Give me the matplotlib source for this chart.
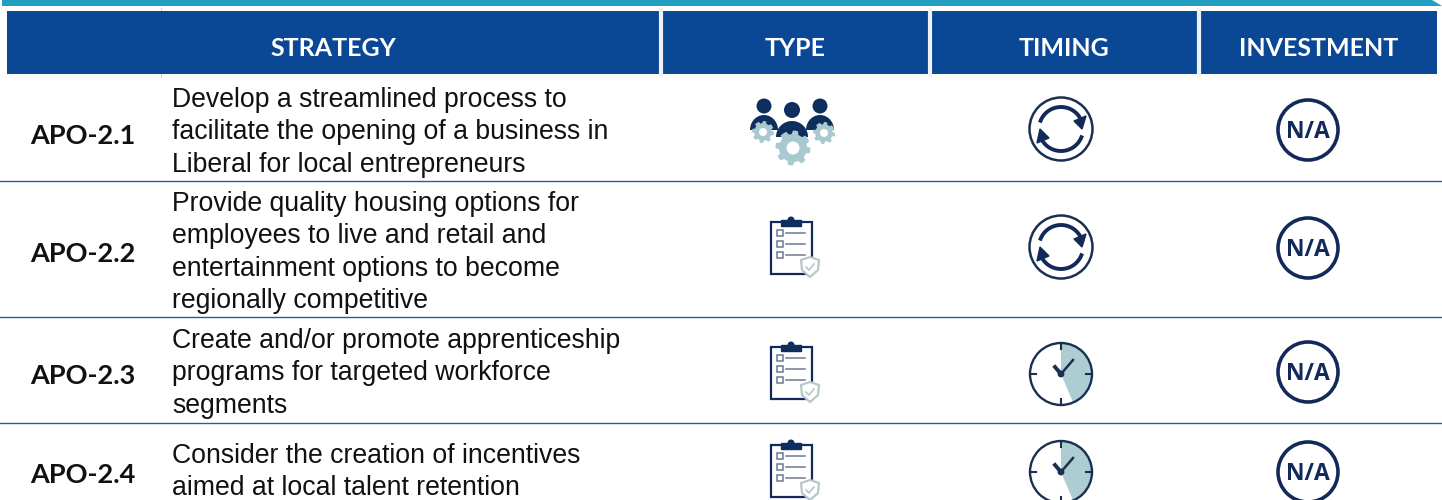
import numpy as np
from matplotlib import pyplot as plt
from matplotlib.patches import Rectangle, Circle, Wedge, Polygon, FancyBboxPatch

headers = ["STRATEGY", "TYPE", "TIMING", "INVESTMENT"]
codes = ["APO-2.1", "APO-2.2", "APO-2.3", "APO-2.4"]
strategies = [
    ["Develop a streamlined process to", "facilitate the opening of a business in", "Liberal for local entrepreneurs"],
    ["Provide quality housing options for", "employees to live and retail and", "entertainment options to become", "regionally competitive"],
    ["Create and/or promote apprenticeship", "programs for targeted workforce", "segments"],
    ["Consider the creation of incentives", "aimed at local talent retention"],
]
types = ["people", "plan", "plan", "plan"]
timings = ["ongoing", "ongoing", "clock", "clock"]

NAVY = "#12295a"
LIGHT = "#a9c9d0"
HEAD = "#0a4795"
FONT = "Liberation Sans"
LABEL = "Lato"


def gear(ax, x, y, r, hole, teeth=8):
    ang = np.linspace(0, 2*np.pi, teeth*8, endpoint=False)
    rad = np.where((ang*teeth/(2*np.pi)) % 1 < 0.5, r, r*0.8)
    ax.add_patch(Polygon(np.c_[x + rad*np.cos(ang), y + rad*np.sin(ang)], fc=LIGHT, ec="none", zorder=4))
    ax.add_patch(Circle((x, y), hole, fc="white", ec="none", zorder=5))


def shoulders(ax, x, y, rx, h):
    t = np.linspace(np.pi, 2*np.pi, 40)
    ax.add_patch(Polygon(np.c_[x + rx*np.cos(t), y + h*np.sin(t)], fc="#0d2f5e", ec="none", zorder=3))


def people_icon(ax, y):
    x = 792
    for dx, dy, r, rx, h, base in [(-28, -24, 7.5, 14, 15, 24), (28, -24, 7.5, 14, 15, 24), (0, -20, 8, 16, 16, 27)]:
        ax.add_patch(Circle((x+dx, y+dy), r, fc="#0d2f5e", ec="none", zorder=3))
        shoulders(ax, x+dx, y+dy+base, rx, h)
    gear(ax, x-29, y+2, 11, 4)
    gear(ax, x+32, y+3, 11, 4)
    gear(ax, x+1, y+18, 17.5, 6.5)


def plan_icon(ax, top):
    # top = upper edge of the board
    ax.add_patch(Rectangle((771, top), 41, 52, fc="white", ec=NAVY, lw=1.6, zorder=3))
    ax.add_patch(FancyBboxPatch((782, top-1), 19, 5, boxstyle="round,pad=0.5", fc="#0d2f5e", ec="#0d2f5e", zorder=4))
    ax.add_patch(Circle((791, top-2), 3.5, fc="#0d2f5e", ec="none", zorder=4))
    for i in range(3):
        yy = top + 11 + i*11
        ax.add_patch(Rectangle((777, yy-3), 6, 6, fc="white", ec="#6d7892", lw=1.1, zorder=4))
        ax.plot([786, 805], [yy, yy], color="#6d7892", lw=1.1, zorder=4)
    sx, sy = 810, top+45
    ax.add_patch(Polygon([(sx-9, sy-7), (sx, sy-10), (sx+9, sy-7), (sx+8, sy+3), (sx, sy+10), (sx-8, sy+3)],
                         fc="white", ec="#b9c6cb", lw=1.6, zorder=5))
    ax.plot([sx-4, sx-1, sx+4], [sy, sy+3, sy-3], color="#b9c6cb", lw=1.2, zorder=6)


def cycle_icon(ax, x, y):
    ax.add_patch(Circle((x, y), 31.5, fc="white", ec="#1b2f50", lw=1.8, zorder=3))
    for a0, a1 in [(-158, -18), (22, 158)]:
        t = np.radians(np.linspace(a0, a1, 50))
        ax.plot(x + 22*np.cos(t), y + 22*np.sin(t), color=NAVY, lw=2.8, zorder=4)
    ax.add_patch(Polygon([(x+25, y-13), (x+13, y-8), (x+21, y)], fc=NAVY, ec=NAVY, zorder=4))
    ax.add_patch(Polygon([(x-24, y+14), (x-12, y+9), (x-21, y)], fc=NAVY, ec=NAVY, zorder=4))


def clock_icon(ax, x, y):
    ax.add_patch(Circle((x, y), 31, fc="white", ec="none", zorder=2))
    ax.add_patch(Wedge((x, y), 31, -90, 67, fc="#aecdd3", ec="none", zorder=3))
    ax.add_patch(Circle((x, y), 31, fc="none", ec="#1b2f50", lw=1.7, zorder=4))
    for a in np.radians([0, 90, 180, 270]):
        ax.plot([x + 31*np.cos(a), x + 25*np.cos(a)], [y + 31*np.sin(a), y + 25*np.sin(a)],
                color="#1b2f50", lw=1.5, zorder=4)
    ax.plot([x, x+12], [y, y-14], color="#1b2f50", lw=1.8, zorder=5)
    ax.plot([x, x-6], [y, y-7], color="#1b2f50", lw=2.8, zorder=5)
    ax.add_patch(Circle((x, y), 3.4, fc="#1b2f50", ec="none", zorder=5))


def na_icon(ax, x, y):
    ax.add_patch(Circle((x, y), 30, fc="white", ec="#12295a", lw=2.6, zorder=3))
    ax.text(x, y+8.5, "N/A", family="Open Sans", weight="bold", fontsize=16.5, color=NAVY,
            ha="center", va="baseline", zorder=4)


fig = plt.figure(figsize=(14.42, 5), dpi=100)
ax = fig.add_axes([0, 0, 1, 1])
ax.set_xlim(0, 1442)
ax.set_ylim(500, 0)
ax.axis("off")

# top band, right end is slanted
ax.add_patch(Polygon([(2, 0), (1432, 0), (1442, 6), (2, 6)], fc="#219ec0", ec="none"))

# header
ax.add_patch(Rectangle((7, 11), 1430, 63, fc=HEAD, ec="none"))
for sx in [660.5, 929.5, 1198.5]:
    ax.plot([sx, sx], [8, 77], color="#eef2f7", lw=3, solid_capstyle="butt")
ax.plot([161, 161], [8, 77], color="#c9d3df", lw=0.8, zorder=0)
for name, hx in zip(headers, [333, 795, 1064, 1319]):
    ax.text(hx, 56.5, name, family=LABEL, weight="bold", fontsize=18, color="white", ha="center", va="baseline")

# row rules
for ry in [181, 317, 422.5]:
    ax.plot([0, 1442], [ry, ry], color="#2a5aa5", lw=1.0)

first_base = [107, 211, 348, 463]
code_y = [144, 262, 384, 483]
type_y = [130, 222, 347, 445]
time_y = [129, 247, 374, 472]
na_y = [130, 248, 372, 472]

for i, code in enumerate(codes):
    ax.text(83, code_y[i], code, family=LABEL, weight="bold", fontsize=19.5, color="#111111", ha="center", va="baseline")
    for j, line in enumerate(strategies[i]):
        ax.text(172, first_base[i] + j*32.4, line, family=FONT, fontsize=19.17, color="#111111", ha="left", va="baseline")
    if types[i] == "people":
        people_icon(ax, type_y[i])
    else:
        plan_icon(ax, type_y[i])
    if timings[i] == "ongoing":
        cycle_icon(ax, 1061, time_y[i])
    else:
        clock_icon(ax, 1061, time_y[i])
    na_icon(ax, 1308, na_y[i])

fig.savefig("out.png", dpi=100)
